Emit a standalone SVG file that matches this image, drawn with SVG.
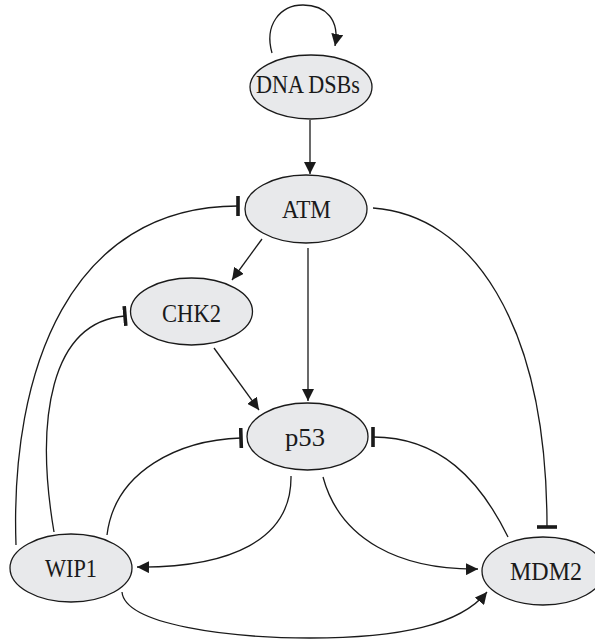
<svg xmlns="http://www.w3.org/2000/svg" width="595" height="640" viewBox="0 0 595 640">
<defs>
<style>
.node ellipse{fill:#e8e9eb;stroke:#1a1a1a;stroke-width:1.3}
.node text{font-family:"Liberation Serif","Times New Roman",serif;font-size:25px;fill:#1a1a1a;text-anchor:middle}
.edges path{fill:none;stroke:#1a1a1a;stroke-width:1.3}
.act{marker-end:url(#arrow)}
.inh{marker-end:url(#bar)}
</style>
<marker id="arrow" markerUnits="userSpaceOnUse" markerWidth="14" markerHeight="12" refX="12" refY="6" orient="auto" viewBox="0 0 14 12">
<path d="M0,0 L12,6 L0,12 Z" fill="#1a1a1a"/>
</marker>
<marker id="bar" markerUnits="userSpaceOnUse" markerWidth="6" markerHeight="22" refX="2" refY="11" orient="auto" viewBox="0 0 6 22">
<path d="M2,1 L2,21" stroke="#1a1a1a" stroke-width="3.6"/>
</marker>
</defs>
<rect width="595" height="640" fill="#ffffff"/>
<g id="edges" class="edges">
<path id="e-dsb-self" class="act" d="M272,53 C264,25 280,5 303,5 C326,5 340,20 335,46"/>
<path id="e-dsb-atm" class="act" d="M310,120 L310,174"/>
<path id="e-atm-chk2" class="act" d="M262,239 L232,280"/>
<path id="e-atm-p53" class="act" d="M308,248 L308,401"/>
<path id="e-chk2-p53" class="act" d="M214,348 L259,410"/>
<path id="e-atm-mdm2" class="inh" d="M373,208 C470,215 547,320 547,527"/>
<path id="e-wip1-atm" class="inh" d="M16,545 C10,370 70,206 238,206"/>
<path id="e-wip1-chk2" class="inh" d="M54,532 C35,420 50,322 125,316"/>
<path id="e-wip1-p53" class="inh" d="M107,535 C115,470 180,440 241,438"/>
<path id="e-p53-wip1" class="act" d="M291,476 C292,540 230,568 137,567"/>
<path id="e-p53-mdm2" class="act" d="M323,477 C340,540 400,570 478,569"/>
<path id="e-mdm2-p53" class="inh" d="M508,537 C480,480 440,437 373,437"/>
<path id="e-wip1-mdm2" class="act" d="M122,592 C125,625 230,638 310,638 C400,638 460,625 487,592"/>
</g>
<g id="n-dsb" class="node"><ellipse cx="311" cy="87" rx="61" ry="32"/><text x="308" y="93" textLength="104" lengthAdjust="spacingAndGlyphs">DNA DSBs</text></g>
<g id="n-atm" class="node"><ellipse cx="306" cy="209" rx="61" ry="34"/><text x="306.5" y="218" textLength="49" lengthAdjust="spacingAndGlyphs">ATM</text></g>
<g id="n-chk2" class="node"><ellipse cx="191.5" cy="311.5" rx="61" ry="33.5"/><text x="191.5" y="322" textLength="59" lengthAdjust="spacingAndGlyphs">CHK2</text></g>
<g id="n-p53" class="node"><ellipse cx="307.5" cy="436.5" rx="60.5" ry="33.5"/><text x="305" y="446" textLength="40" lengthAdjust="spacingAndGlyphs">p53</text></g>
<g id="n-wip1" class="node"><ellipse cx="71" cy="568" rx="61" ry="34"/><text x="71" y="577" textLength="52" lengthAdjust="spacingAndGlyphs">WIP1</text></g>
<g id="n-mdm2" class="node"><ellipse cx="543" cy="571" rx="61" ry="34"/><text x="546" y="580" textLength="72" lengthAdjust="spacingAndGlyphs">MDM2</text></g>
</svg>
